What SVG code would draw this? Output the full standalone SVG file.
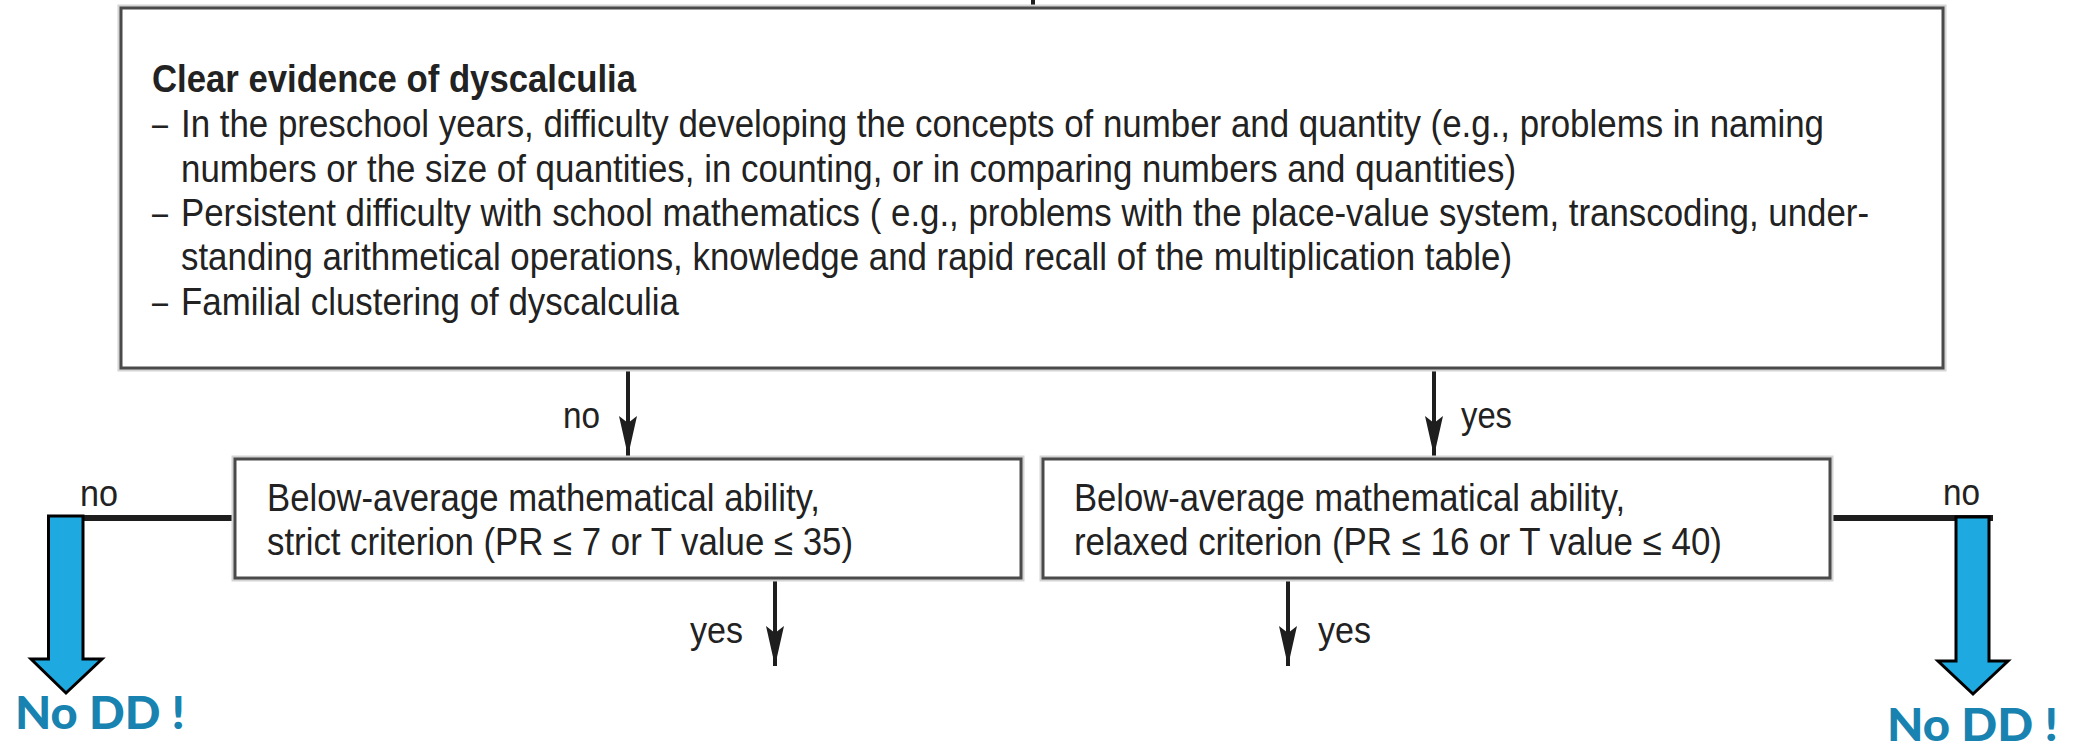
<svg xmlns="http://www.w3.org/2000/svg" width="2078" height="751" viewBox="0 0 2078 751">
  <style>
    .box { fill: #ffffff; stroke: #4a4a4a; stroke-width: 3; }
    .halo { fill: none; stroke: #d4d4d4; stroke-width: 7; }
    .txt { font-family: "Liberation Sans", Arial, sans-serif; font-size: 38px; fill: #222222; }
    .title { font-weight: bold; }
    .lbl { font-family: "Liberation Sans", Arial, sans-serif; font-size: 37px; fill: #222222; }
    .flow { stroke: #1e1e1e; stroke-width: 4; fill: none; }
    .branch { stroke: #1e1e1e; stroke-width: 6; fill: none; }
    .exit { fill: #1eaae1; stroke: #000000; stroke-width: 3; stroke-linejoin: miter; }
    .nodd { font-family: Lato, "Open Sans", sans-serif; font-weight: 900; font-size: 46px; fill: #1883b0; }
  </style>
  <defs>
    <marker id="head" viewBox="0 0 40 20" refX="40" refY="10" markerWidth="40" markerHeight="20" markerUnits="userSpaceOnUse" orient="auto">
      <path d="M0,1 L40,10 L0,19 L7,10 Z" fill="#1e1e1e"/>
    </marker>
  </defs>

  <rect width="2078" height="751" fill="#ffffff"/>

  <!-- connectors -->
  <g id="connectors">
    <line class="flow" x1="1033" y1="0" x2="1033" y2="8"/>
    <line class="flow" x1="628" y1="368" x2="628" y2="456" marker-end="url(#head)"/>
    <line class="flow" x1="1434" y1="368" x2="1434" y2="456" marker-end="url(#head)"/>
    <line class="flow" x1="775" y1="578" x2="775" y2="666" marker-end="url(#head)"/>
    <line class="flow" x1="1288" y1="578" x2="1288" y2="666" marker-end="url(#head)"/>
    <line class="branch" x1="47" y1="518" x2="235" y2="518"/>
    <line class="branch" x1="1830" y1="518" x2="1993" y2="518"/>
    <text class="lbl" x="563" y="428" textLength="37" lengthAdjust="spacingAndGlyphs">no</text>
    <text class="lbl" x="1461" y="428" textLength="51" lengthAdjust="spacingAndGlyphs">yes</text>
    <text class="lbl" x="690" y="643" textLength="53" lengthAdjust="spacingAndGlyphs">yes</text>
    <text class="lbl" x="1318" y="643" textLength="53" lengthAdjust="spacingAndGlyphs">yes</text>
    <text class="lbl" x="80" y="506" textLength="38" lengthAdjust="spacingAndGlyphs">no</text>
    <text class="lbl" x="1943" y="505" textLength="37" lengthAdjust="spacingAndGlyphs">no</text>
  </g>

  <!-- evidence box -->
  <g id="evidence">
    <rect class="halo" x="121" y="8" width="1822" height="360"/>
    <rect class="box" x="121" y="8" width="1822" height="360"/>
    <text class="txt title" x="152" y="92" textLength="484" lengthAdjust="spacingAndGlyphs">Clear evidence of dyscalculia</text>
    <text class="txt" x="152" y="137" textLength="16" lengthAdjust="spacingAndGlyphs">–</text>
    <text class="txt" x="181" y="137" textLength="1643" lengthAdjust="spacingAndGlyphs">In the preschool years, difficulty developing the concepts of number and quantity (e.g., problems in naming</text>
    <text class="txt" x="181" y="182" textLength="1335" lengthAdjust="spacingAndGlyphs">numbers or the size of quantities, in counting, or in comparing numbers and quantities)</text>
    <text class="txt" x="152" y="226" textLength="16" lengthAdjust="spacingAndGlyphs">–</text>
    <text class="txt" x="181" y="226" textLength="1688" lengthAdjust="spacingAndGlyphs">Persistent difficulty with school mathematics ( e.g., problems with the place-value system, transcoding, under-</text>
    <text class="txt" x="181" y="270" textLength="1331" lengthAdjust="spacingAndGlyphs">standing arithmetical operations, knowledge and rapid recall of the multiplication table)</text>
    <text class="txt" x="152" y="315" textLength="16" lengthAdjust="spacingAndGlyphs">–</text>
    <text class="txt" x="181" y="315" textLength="498" lengthAdjust="spacingAndGlyphs">Familial clustering of dyscalculia</text>
  </g>

  <!-- strict criterion box -->
  <g id="strict">
    <rect class="halo" x="235" y="459" width="786" height="119"/>
    <rect class="box" x="235" y="459" width="786" height="119"/>
    <text class="txt" x="267" y="511" textLength="553" lengthAdjust="spacingAndGlyphs">Below-average mathematical ability,</text>
    <text class="txt" x="267" y="555" textLength="586" lengthAdjust="spacingAndGlyphs">strict criterion (PR ≤ 7 or T value ≤ 35)</text>
  </g>

  <!-- relaxed criterion box -->
  <g id="relaxed">
    <rect class="halo" x="1043" y="459" width="787" height="119"/>
    <rect class="box" x="1043" y="459" width="787" height="119"/>
    <text class="txt" x="1074" y="511" textLength="551" lengthAdjust="spacingAndGlyphs">Below-average mathematical ability,</text>
    <text class="txt" x="1074" y="555" textLength="648" lengthAdjust="spacingAndGlyphs">relaxed criterion (PR ≤ 16 or T value ≤ 40)</text>
  </g>

  <!-- exit: left -->
  <g id="exit-left">
    <path class="exit" d="M48.5,516 L83,516 L83,659 L102,659 L66,693 L31,659 L48.5,659 Z"/>
    <text class="nodd" x="15" y="729" textLength="170" lengthAdjust="spacingAndGlyphs">No DD !</text>
  </g>

  <!-- exit: right -->
  <g id="exit-right">
    <path class="exit" d="M1956,517 L1989,517 L1989,661 L2008,661 L1973,694 L1938,661 L1956,661 Z"/>
    <text class="nodd" x="1887" y="741" textLength="171" lengthAdjust="spacingAndGlyphs">No DD !</text>
  </g>
</svg>
